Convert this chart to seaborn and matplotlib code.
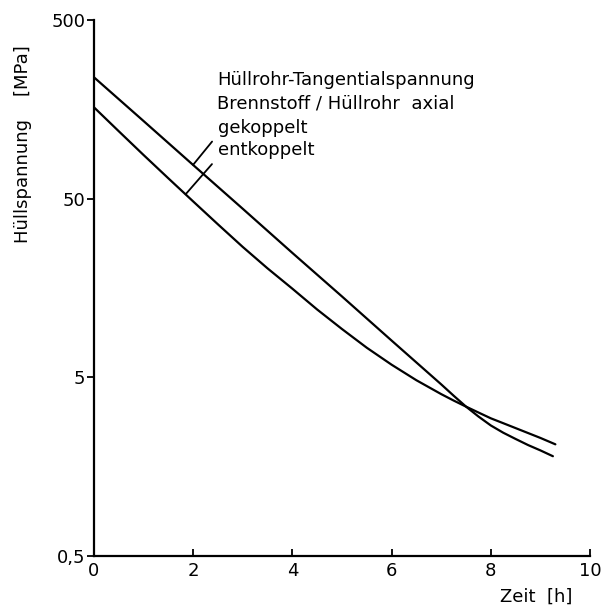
import numpy as np
import pandas as pd
import matplotlib
matplotlib.use("Agg")
import matplotlib.pyplot as plt
import seaborn as sns

# ---- data ----
zeit_gek = [0, 1, 2, 3, 4, 5, 6, 7, 7.25, 7.5, 7.75, 8, 8.25, 8.5, 8.75, 9, 9.25]
spannung_gek = [240, 136.5, 77.4, 44.0, 24.9, 14.2, 8.04, 4.57, 3.95, 3.43, 3.02, 2.69,
                2.45, 2.26, 2.09, 1.95, 1.81]
zeit_ent = [0, 0.5, 1, 1.5, 2, 2.5, 3, 3.5, 4, 4.5, 5, 5.5, 6, 6.5, 7, 7.25, 7.5, 7.75,
            8, 8.25, 8.5, 8.75, 9, 9.3]
spannung_ent = [163, 119.7, 88.1, 65.2, 48.4, 36.0, 26.9, 20.4, 15.7, 12.0, 9.33, 7.33,
                5.89, 4.82, 4.03, 3.71, 3.43, 3.18, 2.95, 2.77, 2.60, 2.44, 2.29, 2.11]

x_ticks = [0, 2, 4, 6, 8, 10]
y_ticks = [0.5, 5, 50, 500]
y_ticklabels = ["0,5", "5", "50", "500"]

df = pd.concat([
    pd.DataFrame({"Zeit": zeit_gek, "Spannung": spannung_gek, "Kopplung": "gekoppelt"}),
    pd.DataFrame({"Zeit": zeit_ent, "Spannung": spannung_ent, "Kopplung": "entkoppelt"}),
], ignore_index=True)

sns.set_style("ticks")
plt.rcParams["font.family"] = ["DejaVu Sans"]
plt.rcParams["text.color"] = "black"

fig = plt.figure(figsize=(6.09, 6.12), dpi=100)
ax = fig.add_axes([0.154, 0.0915, 0.815, 0.8755])

sns.lineplot(data=df, x="Zeit", y="Spannung", units="Kopplung", estimator=None,
             color="black", linewidth=1.6, sort=False, ax=ax, legend=False)

ax.set_yscale("log")
ax.set_xlim(0, 10)
ax.set_ylim(0.5, 500)
ax.set_xticks(x_ticks)
ax.set_xticklabels([str(t) for t in x_ticks])
ax.set_yticks(y_ticks)
ax.set_yticklabels(y_ticklabels)
ax.yaxis.set_minor_locator(matplotlib.ticker.NullLocator())
ax.tick_params(axis="x", direction="in", length=5, width=1.3, labelsize=13, pad=4,
               colors="black")
ax.tick_params(axis="y", direction="out", length=5, width=1.3, labelsize=13, pad=1,
               colors="black")
for s in ["top", "right"]:
    ax.spines[s].set_visible(False)
for s in ["left", "bottom"]:
    ax.spines[s].set_linewidth(1.6)
    ax.spines[s].set_color("black")
ax.set_xlabel("")
ax.set_ylabel("")

fig.text(536 / 609, 1 - 597 / 612, "Zeit  [h]", ha="center", va="center", fontsize=13,
         color="black")
fig.text(23 / 609, 1 - 144 / 612, "Hüllspannung    [MPa]", ha="center", va="center",
         rotation=90, fontsize=13, color="black")

ax.text(217, 612 - 80, "Hüllrohr-Tangentialspannung", transform=None, fontsize=13,
        ha="left", va="center", color="black")
ax.text(217, 612 - 104, "Brennstoff / Hüllrohr  axial", transform=None, fontsize=13,
        ha="left", va="center", color="black")

ax.annotate("gekoppelt", xy=(zeit_gek[2], spannung_gek[2]), xycoords="data",
            xytext=(218, 612 - 128), textcoords="figure pixels", fontsize=13,
            ha="left", va="center", color="black",
            arrowprops=dict(arrowstyle="-", lw=1.3, color="black",
                            relpos=(0, 0.15), shrinkA=3, shrinkB=0))
ax.annotate("entkoppelt", xy=(1.85, 53), xycoords="data",
            xytext=(218, 612 - 150), textcoords="figure pixels", fontsize=13,
            ha="left", va="center", color="black",
            arrowprops=dict(arrowstyle="-", lw=1.3, color="black",
                            relpos=(0, 0.1), shrinkA=3, shrinkB=0))

fig.savefig("out.png", dpi=100)
